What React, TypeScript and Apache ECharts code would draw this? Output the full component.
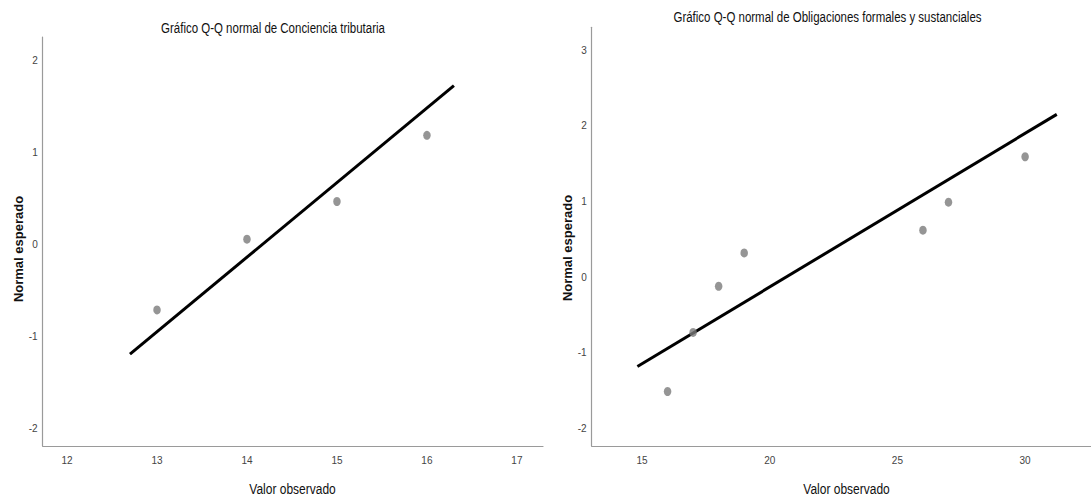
import React, { useEffect, useRef } from "react";
import * as echarts from "echarts";

// Left panel: Conciencia tributaria
const leftTitle = "Gráfico Q-Q normal de Conciencia tributaria";
const leftObserved = [13, 14, 15, 16];
const leftExpected = [-0.71, 0.06, 0.47, 1.19];
const leftLineX = [12.7, 16.3];
const leftLineY = [-1.19, 1.73];
const leftXTicks = [12, 13, 14, 15, 16, 17];
const leftYTicks = [-2, -1, 0, 1, 2];

// Right panel: Obligaciones formales y sustanciales
const rightTitle = "Gráfico Q-Q normal de Obligaciones formales y sustanciales";
const rightObserved = [16, 17, 18, 19, 26, 27, 30];
const rightExpected = [-1.51, -0.73, -0.12, 0.32, 0.62, 0.99, 1.59];
const rightLineX = [14.82, 31.24];
const rightLineY = [-1.18, 2.15];
const rightXTicks = [15, 20, 25, 30];
const rightYTicks = [-2, -1, 0, 1, 2, 3];

const xName = "Valor observado";
const yName = "Normal esperado";

const NARROW = "'Liberation Sans Narrow', 'Arial Narrow', 'Liberation Sans', sans-serif";
const SANS = "'Liberation Sans', Arial, sans-serif";

export default function App() {
  const ref = useRef<HTMLDivElement>(null);

  useEffect(() => {
    if (!ref.current) return;
    const chart = echarts.init(ref.current, undefined, { renderer: "svg" });

    const axisLine = { show: true, onZero: false, lineStyle: { color: "#9a9a9a", width: 1.2 } };
    const tickLabel = { color: "#444", fontFamily: NARROW, fontSize: 10 };

    const mkX = (idx: number, min: number, max: number, ticks: number[]) => ({
      type: "value",
      gridIndex: idx,
      min,
      max,
      axisLine,
      axisTick: { show: false },
      splitLine: { show: false },
      axisLabel: { ...tickLabel, margin: 9, customValues: ticks },
    });
    const mkY = (idx: number, min: number, max: number, ticks: number[]) => ({
      type: "value",
      gridIndex: idx,
      min,
      max,
      axisLine,
      axisTick: { show: false },
      splitLine: { show: false },
      axisLabel: { ...tickLabel, margin: 5, customValues: ticks },
    });

    const pts = (xs: number[], ys: number[]) => xs.map((x, i) => [x, ys[i]]);

    const txt = (text: string, x: number, y: number, opts: any = {}) => ({
      type: "text",
      x,
      y,
      rotation: opts.rotation || 0,
      scaleX: opts.scaleX || 1,
      style: {
        text,
        align: "center",
        verticalAlign: "middle",
        fontFamily: opts.fontFamily || NARROW,
        fontWeight: opts.fontWeight || "normal",
        fontSize: opts.fontSize || 12,
        fill: opts.fill || "#222",
      },
    });

    chart.setOption({
      animation: false,
      backgroundColor: "#ffffff",
      grid: [
        { left: 42.7, top: 37, width: 500.3, height: 409, containLabel: false, outerBoundsMode: "none" },
        { left: 591.7, top: 27.3, width: 510, height: 418.7, containLabel: false, outerBoundsMode: "none" },
      ],
      xAxis: [
        mkX(0, 11.73, 17.29, leftXTicks),
        mkX(1, 13.03, 33.0, rightXTicks),
      ],
      yAxis: [
        mkY(0, -2.19, 2.26, leftYTicks),
        mkY(1, -2.23, 3.3, rightYTicks),
      ],
      series: [
        {
          type: "line",
          xAxisIndex: 0,
          yAxisIndex: 0,
          data: pts(leftLineX, leftLineY),
          showSymbol: false,
          lineStyle: { color: "#000", width: 3 },
          z: 2,
        },
        {
          type: "scatter",
          xAxisIndex: 0,
          yAxisIndex: 0,
          data: pts(leftObserved, leftExpected),
          symbol: "circle",
          symbolSize: [7.5, 9],
          itemStyle: { color: "#7b7b7b" },
          z: 3,
        },
        {
          type: "line",
          xAxisIndex: 1,
          yAxisIndex: 1,
          data: pts(rightLineX, rightLineY),
          showSymbol: false,
          lineStyle: { color: "#000", width: 3 },
          z: 2,
        },
        {
          type: "scatter",
          xAxisIndex: 1,
          yAxisIndex: 1,
          data: pts(rightObserved, rightExpected),
          symbol: "circle",
          symbolSize: [7.5, 9],
          itemStyle: { color: "#7b7b7b" },
          z: 3,
        },
      ],
      graphic: [
        txt(leftTitle, 273, 28, { fontSize: 14, scaleX: 0.82, fill: "#111" }),
        txt(rightTitle, 827.5, 17.5, { fontSize: 14, scaleX: 0.82, fill: "#111" }),
        txt(xName, 292.5, 489, { fontSize: 15, scaleX: 0.8, fill: "#111" }),
        txt(xName, 846.5, 489, { fontSize: 15, scaleX: 0.8, fill: "#111" }),
        txt(yName, 18, 249, { rotation: Math.PI / 2, fontFamily: SANS, fontWeight: "bold", fontSize: 13, fill: "#111" }),
        txt(yName, 567, 248, { rotation: Math.PI / 2, fontFamily: SANS, fontWeight: "bold", fontSize: 13, fill: "#111" }),
      ],
    });

    return () => chart.dispose();
  }, []);

  return (
    <div
      ref={ref}
      style={{ position: "absolute", left: 0, top: 0, width: 1091, height: 497, background: "#fff" }}
    />
  );
}
